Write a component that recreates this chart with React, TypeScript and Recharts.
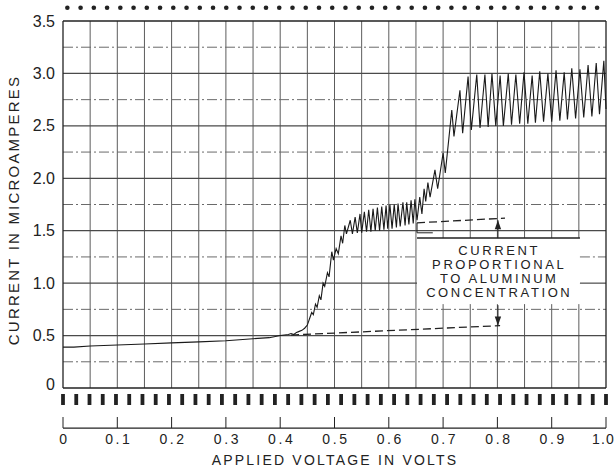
import React from "react";
import { LineChart, Line, XAxis, YAxis, ReferenceLine, ReferenceDot, ReferenceArea } from "recharts";

// polarogram trace (volts -> microamperes)
const footVolts = [0, 0.02, 0.05, 0.1, 0.15, 0.2, 0.25, 0.3, 0.35, 0.38, 0.4, 0.415, 0.42, 0.425, 0.43, 0.435, 0.44, 0.445, 0.45];
const footAmps = [0.39, 0.39, 0.4, 0.41, 0.42, 0.43, 0.44, 0.45, 0.47, 0.48, 0.5, 0.51, 0.52, 0.51, 0.53, 0.54, 0.55, 0.57, 0.6];

const firstRiseVolts = [0.454, 0.458, 0.461, 0.465, 0.468, 0.472, 0.475, 0.479, 0.482, 0.487, 0.49, 0.495, 0.498, 0.503, 0.507, 0.512, 0.515, 0.519, 0.522];
const firstRiseAmps = [0.66, 0.72, 0.7, 0.8, 0.77, 0.88, 0.84, 1.0, 0.97, 1.1, 1.06, 1.3, 1.22, 1.33, 1.28, 1.45, 1.38, 1.55, 1.47];

const firstPlateauVolts = [
  0.529, 0.533, 0.538, 0.542, 0.547, 0.55, 0.555, 0.559, 0.563, 0.567, 0.571, 0.575, 0.579, 0.583, 0.587, 0.591,
  0.595, 0.598, 0.602, 0.606, 0.61, 0.614, 0.617, 0.621, 0.626, 0.63, 0.633, 0.637, 0.641, 0.645, 0.648, 0.652,
];
const firstPlateauAmps = [
  1.6, 1.47, 1.63, 1.48, 1.66, 1.48, 1.68, 1.49, 1.7, 1.49, 1.71, 1.5, 1.72, 1.5, 1.73, 1.51,
  1.74, 1.52, 1.75, 1.52, 1.75, 1.53, 1.76, 1.54, 1.77, 1.55, 1.77, 1.56, 1.79, 1.57, 1.8, 1.6,
];

const secondRiseVolts = [0.657, 0.661, 0.665, 0.668, 0.672, 0.676, 0.685, 0.69, 0.7, 0.704, 0.716, 0.72, 0.731, 0.736, 0.746, 0.752];
const secondRiseAmps = [1.82, 1.66, 1.9, 1.78, 1.96, 1.82, 2.08, 1.9, 2.24, 2.05, 2.65, 2.4, 2.84, 2.43, 2.97, 2.46];

const secondPlateauVolts = [
  0.762, 0.768, 0.777, 0.783, 0.79, 0.797, 0.805, 0.811, 0.82, 0.826, 0.834, 0.841, 0.849, 0.856, 0.864, 0.87, 0.878,
  0.885, 0.893, 0.9, 0.908, 0.915, 0.923, 0.929, 0.937, 0.944, 0.952, 0.959, 0.967, 0.974, 0.982, 0.988, 0.996, 1.0,
];
const secondPlateauAmps = [
  2.99, 2.48, 2.99, 2.49, 3.0, 2.5, 2.98, 2.5, 3.0, 2.51, 2.99, 2.52, 3.01, 2.52, 2.98, 2.53, 3.02,
  2.54, 3.0, 2.54, 3.03, 2.55, 3.01, 2.56, 3.05, 2.57, 3.04, 2.58, 3.08, 2.59, 3.1, 2.61, 3.12, 2.66,
];

// extrapolated residual current lines (dashed) and the wave height arrows
const residualLow = [{ x: 0.42, y: 0.505 }, { x: 0.805, y: 0.595 }];
const residualHigh = [{ x: 0.652, y: 1.575 }, { x: 0.814, y: 1.62 }];
const arrowVolt = 0.801;
const arrowTopAmps = 1.6;
const arrowBottomAmps = 0.595;

const xTicks = [0, 0.1, 0.2, 0.3, 0.4, 0.5, 0.6, 0.7, 0.8, 0.9, 1.0];
const yTicks = [0, 0.5, 1.0, 1.5, 2.0, 2.5, 3.0, 3.5];
const gridVolts = [0.05, 0.1, 0.15, 0.2, 0.25, 0.3, 0.35, 0.4, 0.45, 0.5, 0.55, 0.6, 0.65, 0.7, 0.75, 0.8, 0.85, 0.9, 0.95];
const gridAmps = [0.25, 0.5, 0.75, 1.0, 1.25, 1.5, 1.75, 2.0, 2.25, 2.5, 2.75, 3.0, 3.25];

const noteLines = ["CURRENT", "PROPORTIONAL", "TO ALUMINUM", "CONCENTRATION"];

// blank patch of chart paper that holds the note
const box = { x1: 0.652, x2: 0.952, y1: 0.8, y2: 1.43 };

const join = (vs: number[], as: number[]) => vs.map((v, k) => ({ v, i: as[k] }));
const trace = [
  ...join(footVolts, footAmps),
  ...join(firstRiseVolts, firstRiseAmps),
  ...join(firstPlateauVolts, firstPlateauAmps),
  ...join(secondRiseVolts, secondRiseAmps),
  ...join(secondPlateauVolts, secondPlateauAmps),
];

const FONT = "'Liberation Sans', Arial, sans-serif";
const INK = "#222";
const GRID = "#5c5c5c";

// recorder paper perforations
const HOLES = 42;
const holes = Array.from({ length: HOLES }, (_, k) => k / (HOLES - 1));
const dots = Array.from({ length: HOLES - 1 }, (_, k) => k / (HOLES - 1) + 0.008);

const XTick = (props: any) => {
  const { x, y, payload } = props;
  const v = payload.value;
  const txt = v === 0 ? "0" : v.toFixed(1);
  const last = v === 1;
  return (
    <g>
      <line x1={x} x2={x} y1={y + 29} y2={y + 40} stroke={INK} strokeWidth={1} />
      <text
        x={last ? x + 9 : x + 1.5}
        y={y + 51}
        textAnchor={last ? "end" : "middle"}
        dominantBaseline="central"
        fontFamily={FONT}
        fontSize={14}
        letterSpacing={last ? 1.2 : 2.6}
        fill={INK}
      >
        {txt}
      </text>
    </g>
  );
};

const YTick = (props: any) => {
  const { x, y, payload } = props;
  const v = payload.value;
  const txt = v === 0 ? "0" : v.toFixed(1);
  return (
    <text x={x - 8} y={v === 0 ? y - 4 : y} textAnchor="end" dominantBaseline="central" fontFamily={FONT} fontSize={16} fill={INK}>
      {txt}
    </text>
  );
};

const YTitle = () => (
  <text transform="translate(13,210) rotate(-90)" textAnchor="middle" dominantBaseline="central" fontFamily={FONT} fontSize={15} letterSpacing={2.2} fill={INK}>
    CURRENT IN MICROAMPERES
  </text>
);

const XTitle = () => (
  <text x={335} y={460} textAnchor="middle" dominantBaseline="central" fontFamily={FONT} fontSize={14} letterSpacing={2.2} fill={INK}>
    APPLIED VOLTAGE IN VOLTS
  </text>
);

const Note = (props: any) => (
  <text x={props.cx} y={props.cy} textAnchor="middle" fontFamily={FONT} fontSize={13} letterSpacing={2.6} fill={INK}>
    {noteLines.map((t, k) => (
      <tspan key={t} x={props.cx + 1.3} dy={k === 0 ? 0 : 14} dominantBaseline="central">
        {t}
      </tspan>
    ))}
  </text>
);

const ArrowUp = (props: any) => <path d={`M${props.cx},${props.cy} l-3.2,9 l6.4,0 z`} fill={INK} />;
const ArrowDown = (props: any) => <path d={`M${props.cx},${props.cy} l-3.2,-9 l6.4,0 z`} fill={INK} />;

function gridLines() {
  const out: React.ReactNode[] = [];
  gridVolts.forEach((v) => {
    if (v > box.x1 && v < box.x2) {
      out.push(<ReferenceLine key={`v${v}a`} segment={[{ x: v, y: 0 }, { x: v, y: box.y1 }]} stroke={GRID} strokeWidth={1} />);
      out.push(<ReferenceLine key={`v${v}b`} segment={[{ x: v, y: box.y2 }, { x: v, y: 3.5 }]} stroke={GRID} strokeWidth={1} />);
    } else {
      out.push(<ReferenceLine key={`v${v}`} x={v} stroke={GRID} strokeWidth={1} />);
    }
  });
  gridAmps.forEach((a) => {
    const major = Math.abs(a * 2 - Math.round(a * 2)) < 1e-6;
    const style = major
      ? { stroke: "#4a4a4a", strokeWidth: 1.2 }
      : { stroke: "#6a6a6a", strokeWidth: 1, strokeDasharray: "10 3 2 3" };
    if (a > box.y1 && a < box.y2) {
      out.push(<ReferenceLine key={`h${a}a`} segment={[{ x: 0, y: a }, { x: box.x1, y: a }]} {...style} />);
      out.push(<ReferenceLine key={`h${a}b`} segment={[{ x: box.x2, y: a }, { x: 1, y: a }]} {...style} />);
    } else {
      out.push(<ReferenceLine key={`h${a}`} y={a} {...style} />);
    }
  });
  return out;
}

export default function App() {
  return (
    <div style={{ position: "absolute", left: 0, top: 0, background: "#fff" }}>
      <LineChart width={615} height={469} data={trace} margin={{ top: 21, right: 9, bottom: 0, left: 0 }}>
        <XAxis
          type="number"
          dataKey="v"
          domain={[0, 1]}
          ticks={xTicks}
          height={81}
          tickSize={0}
          tickMargin={0}
          tickLine={false}
          axisLine={false}
          tick={<XTick />}
          label={<XTitle />}
        />
        <YAxis
          type="number"
          domain={[0, 3.5]}
          ticks={yTicks}
          width={63}
          tickSize={0}
          tickMargin={0}
          tickLine={false}
          axisLine={false}
          tick={<YTick />}
          label={<YTitle />}
        />
        {gridLines()}

        {/* plot frame */}
        <ReferenceLine x={0} stroke={INK} strokeWidth={1.3} />
        <ReferenceLine x={1} stroke={INK} strokeWidth={1.3} />
        <ReferenceLine y={0} stroke={INK} strokeWidth={1.3} />
        <ReferenceLine y={3.5} stroke={INK} strokeWidth={1.5} />

        {/* perforations above and below the paper */}
        {dots.map((v) => (
          <ReferenceDot key={`d${v}`} x={v} y={3.626} r={2.3} fill={INK} stroke="none" ifOverflow="visible" />
        ))}
        {holes.map((v) => (
          <ReferenceArea key={`s${v}`} x1={v - 0.0035} x2={v + 0.0035} y1={-0.162} y2={-0.057} fill={INK} fillOpacity={1} stroke="none" ifOverflow="visible" />
        ))}
        {/* voltage scale line under the strip */}
        <ReferenceLine y={-0.382} stroke={INK} strokeWidth={1.2} ifOverflow="visible" />

        {/* note frame */}
        <ReferenceLine segment={[{ x: box.x1, y: box.y2 }, { x: box.x2, y: box.y2 }]} stroke={INK} strokeWidth={1.4} />
        <ReferenceLine segment={[{ x: box.x1, y: 1.575 }, { x: box.x1, y: 1.48 }]} stroke={INK} strokeWidth={1} />
        <ReferenceLine segment={[{ x: box.x1, y: 1.48 }, { x: 0.681, y: 1.48 }]} stroke={INK} strokeWidth={1} />

        <ReferenceLine segment={residualLow} stroke={INK} strokeWidth={1.3} strokeDasharray="8 4" />
        <ReferenceLine segment={residualHigh} stroke={INK} strokeWidth={1.3} strokeDasharray="8 4" />
        <ReferenceLine segment={[{ x: arrowVolt, y: box.y2 }, { x: arrowVolt, y: arrowTopAmps }]} stroke={INK} strokeWidth={1} />
        <ReferenceLine segment={[{ x: arrowVolt, y: 0.79 }, { x: arrowVolt, y: arrowBottomAmps }]} stroke={INK} strokeWidth={1} />
        <ReferenceDot x={arrowVolt} y={arrowTopAmps} r={3} shape={<ArrowUp />} />
        <ReferenceDot x={arrowVolt} y={arrowBottomAmps} r={3} shape={<ArrowDown />} />
        <ReferenceDot x={arrowVolt} y={1.307} r={1} shape={<Note />} />

        <Line type="linear" dataKey="i" stroke="#1a1a1a" strokeWidth={1.1} dot={false} isAnimationActive={false} />
      </LineChart>
    </div>
  );
}
